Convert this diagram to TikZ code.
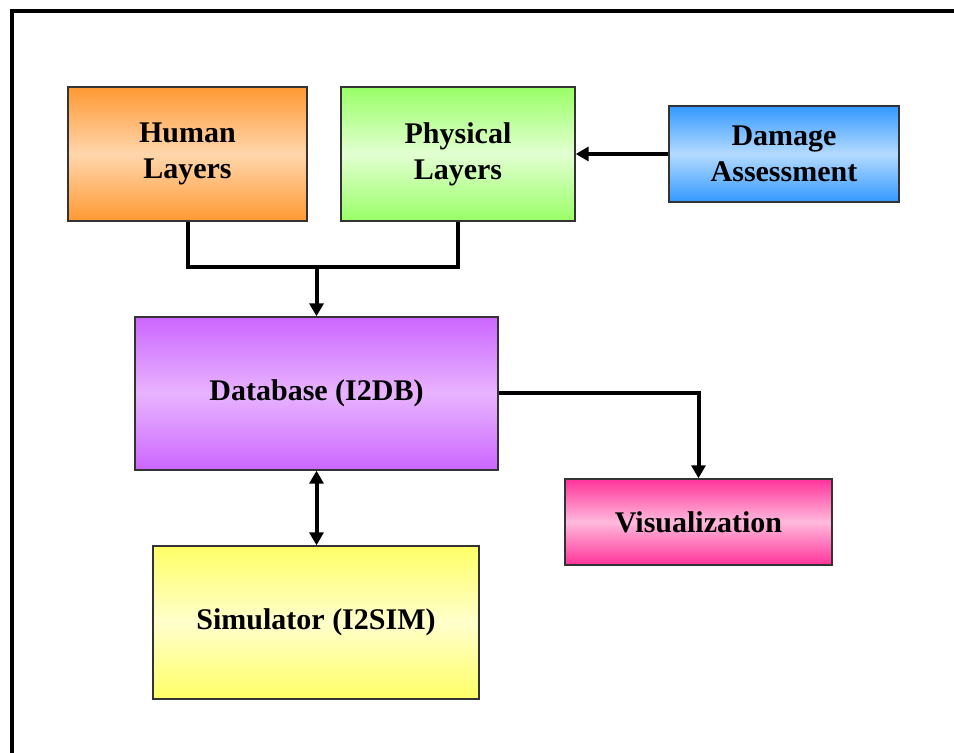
\documentclass[tikz,border=0pt]{standalone}
\usepackage{fontspec}
\setmainfont{Liberation Serif}
\usetikzlibrary{arrows.meta}
\definecolor{orgdark}{HTML}{FF9933}
\definecolor{orglight}{HTML}{FFD6AC}
\definecolor{grndark}{HTML}{99FF66}
\definecolor{grnlight}{HTML}{E2FFD2}
\definecolor{bludark}{HTML}{3399FF}
\definecolor{blulight}{HTML}{B4DAFF}
\definecolor{purdark}{HTML}{CC66FF}
\definecolor{purlight}{HTML}{E8B4FF}
\definecolor{pnkdark}{HTML}{FF3399}
\definecolor{pnklight}{HTML}{FFBADD}
\definecolor{ylwdark}{HTML}{FFFF66}
\definecolor{ylwlight}{HTML}{FFFFCC}
\begin{document}
\begin{tikzpicture}[x=0.5pt,y=-0.5pt,
  every node/.style={font=\fontsize{15}{18}\selectfont\bfseries,align=center},
  block/.style={draw=black!80,line width=0.7pt,inner sep=0pt},
  wire/.style={line width=2pt,arrows={-Triangle[width=7pt,length=6.5pt]}}]
\useasboundingbox (0,0) rectangle (954,753);
% frame
\draw[line width=2pt] (11.5,753) -- (11.5,11.5) -- (954,11.5);
% blocks
\node[block,minimum width=119.5pt,minimum height=67pt,top color=orgdark,bottom color=orgdark,middle color=orglight] (human) at (187.5,154) {Human\\Layers};
\node[block,minimum width=117pt,minimum height=67pt,top color=grndark,bottom color=grndark,middle color=grnlight] (physical) at (458,154) {Physical\\Layers};
\node[block,minimum width=115pt,minimum height=48pt,top color=bludark,bottom color=bludark,middle color=blulight] (damage) at (784,154) {Damage\\Assessment};
\node[block,minimum width=181.5pt,minimum height=76.5pt,top color=purdark,bottom color=purdark,middle color=purlight] (db) at (316.5,393.5) {Database (I2DB)};
\node[block,minimum width=133.5pt,minimum height=43pt,top color=pnkdark,bottom color=pnkdark,middle color=pnklight] (vis) at (698.5,522) {Visualization};
\node[block,minimum width=163pt,minimum height=76.5pt,top color=ylwdark,bottom color=ylwdark,middle color=ylwlight] (sim) at (316,622.5) {Simulator (I2SIM)};
% connectors
\path (db.north) ++(0,-49) coordinate (join);
\draw[line width=2pt] (human.south) |- (join) -| (physical.south);
\draw[wire] (join) -- (db.north);
\draw[wire] (damage.west) -- (physical.east);
\draw[wire] (db.east) -| (vis.north);
\draw[wire,arrows={Triangle[width=7pt,length=6.5pt]-Triangle[width=7pt,length=6.5pt]}] (db.south) -- (db.south |- sim.north);
\end{tikzpicture}
\end{document}
